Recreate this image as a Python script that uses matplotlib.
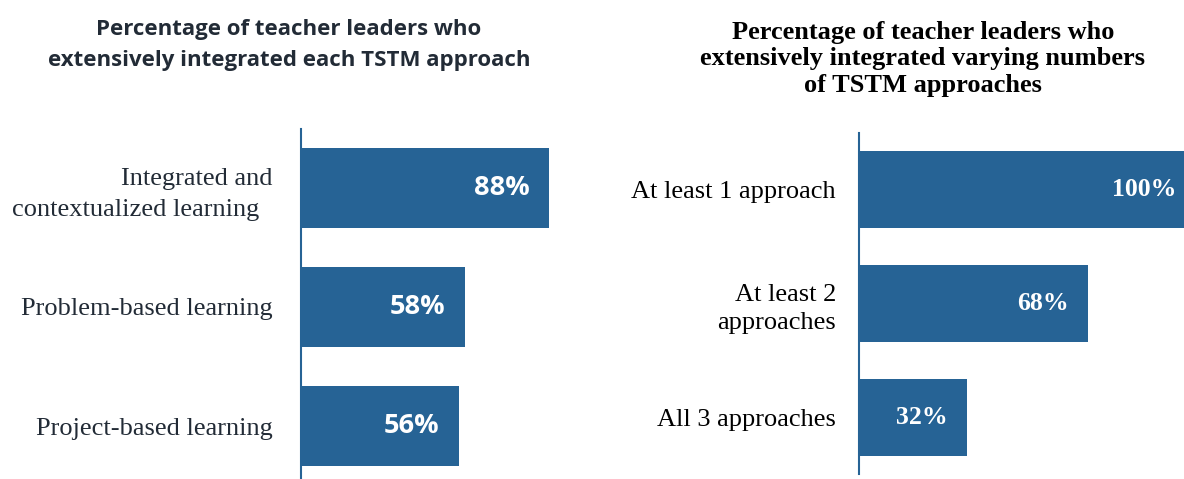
# two-panel horizontal bar chart of TSTM approach integration

import matplotlib
matplotlib.use("Agg")
import matplotlib.pyplot as plt

# data
left_labels = ["Integrated and\ncontextualized learning  ", "Problem-based learning", "Project-based learning"]
left_values = [88, 58, 56]
right_labels = ["At least 1 approach", "At least 2\napproaches", "All 3 approaches"]
right_values = [100, 68, 32]

left_title = "Percentage of teacher leaders who\nextensively integrated each TSTM approach"
right_title = "Percentage of teacher leaders who\nextensively integrated varying numbers\nof TSTM approaches"

bar_color = "#266395"
dark_text = "#222b36"

fig = plt.figure(figsize=(11.84, 4.79), dpi=100)

# axes placed by pixel measurements of the reference
ax_left = fig.add_axes([301 / 1184, -6.5 / 479, 282 / 1184, 357 / 479])
ax_right = fig.add_axes([859 / 1184, 5 / 479, 337 / 1184, 341 / 479])


def draw_panel(ax, labels, values, label_color, value_font, value_size, pad, spacing):
    pos = list(range(len(values)))
    ax.barh(pos, values, height=0.68, color=bar_color)
    ax.set_xlim(0, 100)
    ax.set_ylim(len(values) - 0.5, -0.5)
    ax.set_yticks(pos)
    ax.set_yticklabels(labels, fontfamily="Liberation Serif", fontsize=19,
                       color=label_color, multialignment="right", linespacing=spacing)
    ax.tick_params(axis="y", length=0, pad=pad)
    ax.set_xticks([])
    for side in ["top", "right", "bottom"]:
        ax.spines[side].set_visible(False)
    ax.spines["left"].set_color(bar_color)
    ax.spines["left"].set_linewidth(1.5)
    for p, v in zip(pos, values):
        ax.annotate(f"{v}%", xy=(v, p), xytext=(-14, 0), textcoords="offset points",
                    ha="right", va="center", color="white", fontweight="bold",
                    fontfamily=value_font, fontsize=value_size)


draw_panel(ax_left, left_labels, left_values, dark_text, "Open Sans", 19.5, 20.5, 1.5)
draw_panel(ax_right, right_labels, right_values, "black", "Liberation Serif", 18.5, 16.5, 1.38)

fig.text(289 / 1184, 1 - 45 / 479, left_title, ha="center", va="center",
         fontfamily="Open Sans", fontweight="bold", fontsize=16, color=dark_text,
         linespacing=1.65)
fig.text(923 / 1184, 1 - 59 / 479, right_title, ha="center", va="center",
         fontfamily="Liberation Serif", fontweight="bold", fontsize=19, color="black",
         linespacing=1.18)

fig.savefig("out.png", dpi=100)
